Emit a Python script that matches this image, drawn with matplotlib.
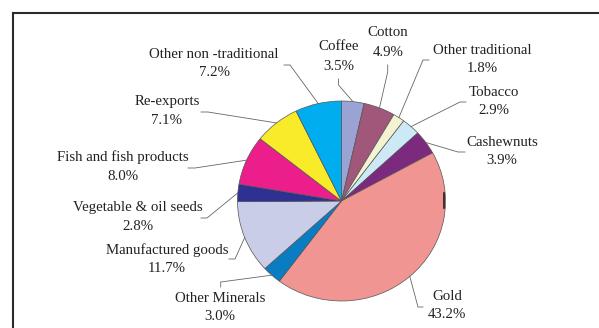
import matplotlib.pyplot as plt
import numpy as np

# export shares, clockwise from 12 o'clock
categories = ["Coffee", "Cotton", "Other traditional", "Tobacco", "Cashewnuts",
              "Gold", "Other Minerals", "Manufactured goods",
              "Vegetable & oil seeds", "Fish and fish products", "Re-exports",
              "Other non -traditional"]
shares = [3.5, 4.9, 1.8, 2.9, 3.9, 43.2, 3.0, 11.7, 2.8, 8.0, 7.1, 7.2]
colors = ["#9ba3d4", "#a0577a", "#f3f3d2", "#cde9f5", "#7b2a7e", "#f09592",
          "#0a7cc2", "#c9cde8", "#2e3192", "#ec1e8c", "#f8ec2a", "#00aeef"]

# label layout in pixels: text centre x, name line y, percent line y
label_xy = [(339, 47, 66), (388, 33, 52), (482, 50, 69), (494, 92, 111),
            (502, 142, 161), (447, 296, 315), (220, 299, 317),
            (167, 250, 268), (138, 207, 226), (123, 157, 177),
            (167, 102, 121), (214, 54, 73)]
# leader lines: elbow point then end of the short tick
leader_xy = [((338.5, 85), (338.5, 79)), ((387.7, 72), (387.7, 65)),
             ((423, 60), (429, 60)), ((460, 102), (466, 102)),
             ((458, 152), (465, 152)), ((418, 307), (423, 307)),
             ((220.7, 282), (220.7, 287)), ((235, 259), (229, 259)),
             ((207, 218), (201, 218)), ((195, 168), (188, 168)),
             ((208, 112), (201, 112)), ((290, 65), (284, 65))]

W, H = 599, 328
plt.rcParams['font.family'] = ['Liberation Serif', 'DejaVu Serif']
fig = plt.figure(figsize=(W / 100, H / 100), dpi=100)

# pie is slightly wider than tall
cx, cy, rx, ry = 341.5, 201, 104, 100
pie_ax = fig.add_axes([(cx - rx) / W, (H - cy - ry) / H, 2 * rx / W, 2 * ry / H])
wedges, _ = pie_ax.pie(shares, colors=colors, startangle=90, counterclock=False,
                       wedgeprops=dict(edgecolor='#555555', linewidth=0.5))
pie_ax.set_aspect('auto')
pie_ax.set_xlim(-1, 1)
pie_ax.set_ylim(-1, 1)
pie_ax.axis('off')
for w in wedges:
    w.set_clip_on(False)
pie_ax.plot([0.99, 0.99], [-0.07, 0.08], color='#111111', lw=1.1, clip_on=False)

# overlay in pixel coordinates for frame, labels and leaders
ov = fig.add_axes([0, 0, 1, 1])
ov.set_xlim(0, W)
ov.set_ylim(H, 0)
ov.axis('off')
ov.patch.set_visible(False)

ov.plot([13, 13], [13, H + 5], color='#2a2a2a', lw=1.5, clip_on=False,
        solid_capstyle='projecting')
ov.plot([13, W + 5], [13, 13], color='#2a2a2a', lw=1.5, clip_on=False,
        solid_capstyle='projecting')

to_ov = ov.transData.inverted()
for w, name, val, (tx, y1, y2), (elbow, end) in zip(wedges, categories, shares,
                                                     label_xy, leader_xy):
    theta = np.deg2rad((w.theta1 + w.theta2) / 2)
    edge = to_ov.transform(pie_ax.transData.transform((np.cos(theta), np.sin(theta))))
    ov.plot([edge[0], elbow[0], end[0]], [edge[1], elbow[1], end[1]],
            color='#666666', lw=0.6)
    ov.text(tx, y1, name, ha='center', va='center', fontsize=10.7, color='#222222')
    ov.text(tx, y2, f"{val:.1f}%", ha='center', va='center', fontsize=10.7,
            color='#222222')

fig.savefig('out.png', dpi=100)
